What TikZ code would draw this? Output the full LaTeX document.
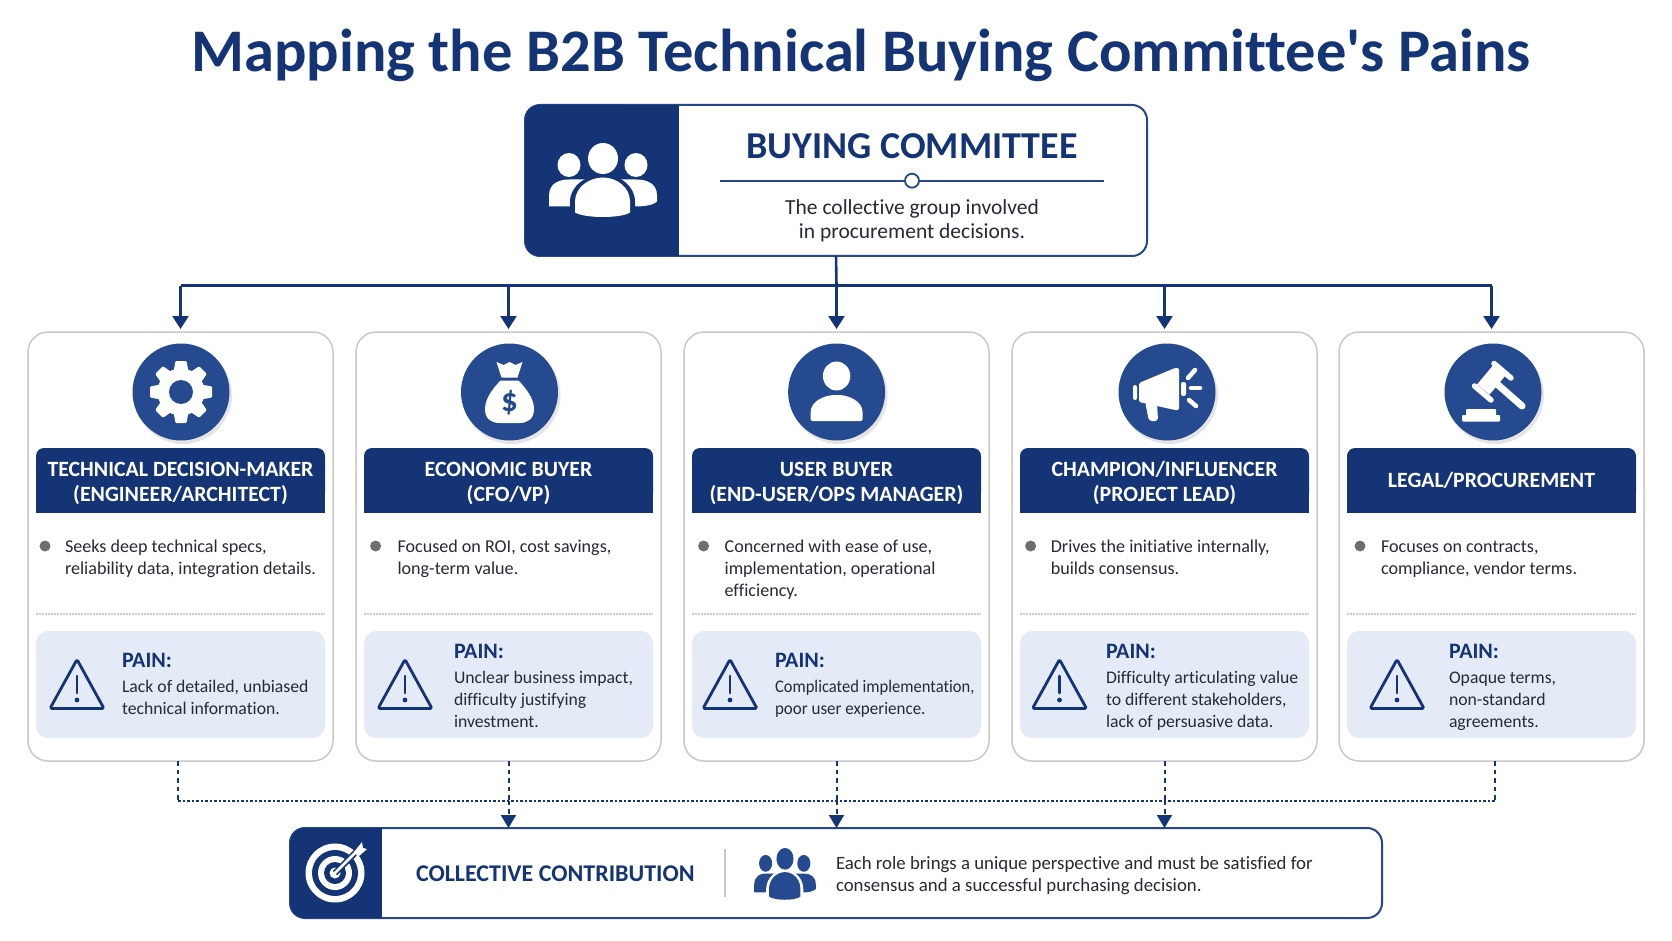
\documentclass[tikz,border=0pt]{standalone}
\usepackage{fontspec}
\setmainfont{Carlito}[Ligatures={TeX,NoCommon}]
\newfontfamily\titlefont{Carlito}[Ligatures=NoCommon]
\usetikzlibrary{arrows.meta}
\definecolor{navy}{HTML}{143475}
\definecolor{roundel}{HTML}{254A8F}
\definecolor{edgeblue}{HTML}{26478A}
\definecolor{inktext}{HTML}{262A33}
\definecolor{painfill}{HTML}{E4EBF7}
\definecolor{cardedge}{HTML}{C9C9C9}
\definecolor{dotgrey}{HTML}{6E6E70}
\tikzset{
  x=1pt,y=-1pt,
  every node/.style={inner sep=0pt,outer sep=0pt},
  cardbox/.style={draw=cardedge,fill=white,line width=1.5pt,rounded corners=20pt,minimum width=305pt,minimum height=429pt},
  wideframe/.style={draw=edgeblue,fill=white,line width=2pt,rounded corners=15pt},
  headtext/.style={text=white,font=\bfseries\fontsize{21.8}{25}\selectfont,align=center},
  bodytext/.style={text=inktext,font=\fontsize{18.1}{22}\selectfont,align=left,anchor=north west},
  paintext/.style={text=inktext,font=\fontsize{17.7}{22}\selectfont,align=left,anchor=north west},
  paintitle/.style={text=navy,font=\bfseries\fontsize{22}{25}\selectfont,anchor=west},
  busline/.style={draw=navy,line width=3pt},
  feedline/.style={draw=navy,line width=2.6pt,-{Triangle[width=16pt,length=13pt]},shorten >=3pt},
  dropline/.style={draw=navy,line width=2pt,dash pattern=on 4.5pt off 4pt},
  dropfeed/.style={dropline,-{Triangle[width=15pt,length=13pt,sep=0pt]}},
  dotline/.style={draw=navy,line width=2pt,dash pattern=on 2.5pt off 2pt},
}
\newcommand{\rl}{\rule{0pt}{15pt}}
% group of three people: local origin at the centre of the icon
\newcommand{\peopleglyph}[2]{%
  \fill[#1] (-34,-14.5) circle[x radius=11.5pt,y radius=12pt];
  \fill[#1] (33,-14.5) circle[x radius=11.5pt,y radius=12pt];
  \fill[#1] (-54,27) -- (-54,16) .. controls (-54,4) and (-44,0) .. (-34,0) .. controls (-24,0) and (24,0) .. (33,0) .. controls (44,0) and (54,4) .. (54,16) -- (54,22) .. controls (50,26) and (40,27) .. (30,27) -- cycle;
  \fill[#2] (-33,39) -- (-33,22) .. controls (-33,6) and (-16,-5) .. (0,-5) .. controls (16,-5) and (32,6) .. (32,22) -- (32,39) -- cycle;
  \fill[#1] (-28,33) -- (-28,22) .. controls (-28,8) and (-14,-2) .. (0,-2) .. controls (14,-2) and (27,8) .. (27,22) -- (27,33) .. controls (18,39) and (-18,39) .. (-28,33) -- cycle;
  \fill[#1] (0,-21) circle[x radius=15pt,y radius=15.5pt];
}
\newcommand{\rolehead}[5]{%
  \node[cardbox] (card#1) at (#2,546.5) {};
  \fill[navy,rounded corners=8pt] (#2-144.5,448) rectangle (#2+144.5,500);
  \fill[navy] (#2-144.5,470) rectangle (#2+144.5,513);
  \node[headtext] (head#1) at (#2,#5) {#4};
  \fill[black,opacity=.10] (#3+2,392+3) circle[radius=49pt];
  \fill[roundel] (#3,392) circle[radius=48.5pt];
}
\newcommand{\rolebody}[9]{%
  \fill[dotgrey] (#3,546) circle[radius=5.5pt];
  \node[bodytext] (note#1) at (#4,537.5) {\rl #5};
  \draw[cardedge,line width=1.3pt,dash pattern=on 1.6pt off 1.4pt] (#2-144.5,614) -- (#2+144.5,614);
  \fill[painfill,rounded corners=12pt] (#2-144.5,631) rectangle (#2+144.5,738);
  \draw[navy,line width=2.8pt,line join=round,rounded corners=1.5pt] (#6,659.5) -- (#6+27,708.5) -- (#6-27,708.5) -- cycle;
  \draw[navy,line width=2.8pt,line cap=round] (#6,676) -- (#6,693);
  \fill[navy] (#6,700) circle[radius=2.4pt];
  \node[paintitle] (paintag#1) at (#7,#8) {PAIN:};
  \node[paintext] (pain#1) at (#7,#8+17.5) {\rl #9};
}
\begin{document}
\begin{tikzpicture}
\useasboundingbox (0,0) rectangle (1672,941);
\fill[white] (0,0) rectangle (1672,941);

\node[text=navy,font=\titlefont\bfseries\fontsize{60.5}{66}\selectfont] (maintitle) at (861,55) {Mapping the B2B Technical Buying Committee's Pains};

% top box
\node[wideframe,minimum width=622pt,minimum height=151pt] (top) at (836,180.5) {};
\fill[navy,rounded corners=15pt] (525,105) rectangle (640,256);
\fill[navy] (610,105) rectangle (679,256);
\begin{scope}[shift={(603,179.5)}]\peopleglyph{white}{navy}\end{scope}
\node[text=navy,font=\bfseries\fontsize{38}{42}\selectfont] (toptitle) at (912,146.5) {BUYING COMMITTEE};
\draw[edgeblue,line width=1.8pt] (720,180.7) -- (1104,180.7);
\draw[edgeblue,line width=1.8pt,fill=white] (912,180.7) circle[radius=7pt];
\node[text=inktext,font=\fontsize{21.5}{24}\selectfont,align=center] (topnote) at (912,221) {The collective group involved\\in procurement decisions.};

% cards
\rolehead{1}{180.5}{181}{TECHNICAL DECISION-MAKER\\(ENGINEER/ARCHITECT)}{483}
\rolehead{2}{508.5}{509.5}{ECONOMIC BUYER\\(CFO/VP)}{483}
\rolehead{3}{836.5}{836.6}{USER BUYER\\(END-USER/OPS MANAGER)}{483}
\rolehead{4}{1164.5}{1167}{CHAMPION/INFLUENCER\\(PROJECT LEAD)}{483}
\rolehead{5}{1491.5}{1493}{LEGAL/PROCUREMENT}{480.5}

\rolebody{1}{180.5}{45}{65}{Seeks deep technical specs,\\reliability data, integration details.}{77}{122}{660}{Lack of detailed, unbiased\\technical information.}
\rolebody{2}{508.5}{375.6}{397.5}{Focused on ROI, cost savings,\\long-term value.}{405}{454}{651}{Unclear business impact,\\difficulty justifying\\investment.}
\rolebody{3}{836.5}{703.6}{724.6}{Concerned with ease of use,\\implementation, operational\\efficiency.}{730}{775}{660}{\scalebox{.935}[1]{Complicated implementation,}\\\scalebox{.96}[1]{poor user experience.}}
\rolebody{4}{1164.5}{1030.6}{1050.8}{Drives the initiative internally,\\builds consensus.}{1059.5}{1106}{651}{Difficulty articulating value\\to different stakeholders,\\lack of persuasive data.}
\rolebody{5}{1491.5}{1360}{1381}{Focuses on contracts,\\compliance, vendor terms.}{1397}{1449}{651}{Opaque terms,\\non-standard\\agreements.}

% gear
\begin{scope}[shift={(181,392)}]
  \fill[white] (0,0) circle[radius=23.5pt];
  \foreach \a in {0,45,...,315}{\fill[white,rotate=\a,rounded corners=1pt] (-7.5,-20) -- (-5.5,-31) -- (5.5,-31) -- (7.5,-20) -- cycle;}
  \fill[roundel] (0,0) circle[radius=12pt];
\end{scope}
% money bag
\begin{scope}[shift={(509.5,392)}]
  \fill[white,line join=round] (-13,-30) -- (-6,-27) -- (0,-30) -- (6,-27) -- (13,-30) -- (8,-14.5) -- (-8,-14.5) -- cycle;
  \fill[white] (-9,-11.5) .. controls (-16,-4) and (-24.5,6) .. (-24.5,17) .. controls (-24.5,27) and (-18,31) .. (-10,31) -- (10,31) .. controls (18,31) and (24.5,27) .. (24.5,17) .. controls (24.5,6) and (16,-4) .. (9,-11.5) -- cycle;
  \node[text=roundel,font=\bfseries\fontsize{33}{33}\selectfont] (dollar) at (0,11) {\$};
\end{scope}
% person
\begin{scope}[shift={(836.6,392)}]
  \fill[white] (0,-16) circle[x radius=13.7pt,y radius=14.5pt];
  \fill[white,rounded corners=1.5pt] (-26,29) -- (-26,22) .. controls (-26,9) and (-12,3) .. (0,3) .. controls (12,3) and (26,9) .. (26,22) -- (26,29) -- cycle;
\end{scope}
% megaphone
\begin{scope}[shift={(1167,392)}]
  \fill[white,line join=round,rounded corners=1.5pt] (-28,-9) -- (8,-24) -- (12,-24) -- (12,18) -- (8,18) -- (-28,10) -- cycle;
  \fill[white,rounded corners=2pt] (-34,-7) rectangle (-30,8);
  \fill[white,rounded corners=3pt] (-22,10) -- (-10,10) -- (-9,29) -- (-18,29) -- cycle;
  \fill[white,rounded corners=2pt] (14,-10) rectangle (19,4);
  \draw[white,line width=4.5pt,line cap=round] (21,-14) -- (28,-22);
  \draw[white,line width=4.5pt,line cap=round] (24,-4) -- (33,-4);
  \draw[white,line width=4.5pt,line cap=round] (22,8) -- (29,14);
\end{scope}
% gavel
\begin{scope}[shift={(1493,392)}]
  \fill[white,line join=round] (12.4,-16.4) -- (0,-26.6) -- (-15.9,-7.6) -- (-3.5,2.6) -- cycle;
  \draw[white,line width=5.5pt,line cap=round] (18,-14) -- (1,-28.5);
  \draw[white,line width=5.5pt,line cap=round] (-2,8) -- (-18.5,-6);
  \draw[white,line width=7pt,line cap=round] (4,-8) -- (29,14);
  \fill[white,rounded corners=1pt] (-27,17) rectangle (3,25);
  \fill[white,rounded corners=1pt] (-31,23) rectangle (7,29.5);
\end{scope}

% bottom box
\node[wideframe,minimum width=1092pt,minimum height=90pt] (bottom) at (836,873) {};
\fill[navy,rounded corners=15pt] (290,828) rectangle (350,918);
\fill[navy] (325,828) rectangle (382.4,918);
\begin{scope}[shift={(335,873)}]
  \fill[white] (0,0) circle[radius=29.5pt];
  \fill[navy] (0,0) circle[radius=23pt];
  \fill[white] (0,0) circle[radius=17pt];
  \fill[navy] (0,0) circle[radius=11pt];
  \fill[white] (0,0) circle[radius=5.5pt];
  \draw[navy,line width=6pt] (0,0) -- (22,-22);
  \draw[white,line width=2.8pt,line cap=round] (0,0) -- (24,-24);
  \fill[white] (19,-21) -- (27,-31) -- (28,-25) -- (32,-24) -- (23,-16) -- cycle;
\end{scope}
\node[text=navy,font=\bfseries\fontsize{24}{26}\selectfont,anchor=west] (bottomtitle) at (416,874) {COLLECTIVE CONTRIBUTION};
\draw[cardedge,line width=1.5pt] (725,849) -- (725,897);
\begin{scope}[shift={(785,873.5)},xscale=.57,yscale=.7]\peopleglyph{roundel}{white}\end{scope}
\node[bodytext,anchor=north west,font=\fontsize{18.8}{22}\selectfont] (bottomnote) at (836,854.5) {\rl Each role brings a unique perspective and must be satisfied for\\consensus and a successful purchasing decision.};

% connectors
\coordinate (bus1) at (card1.north |- 0,285.5);
\coordinate (bus2) at (card2.north |- 0,285.5);
\coordinate (bus3) at (card3.north |- 0,285.5);
\coordinate (bus4) at (card4.north |- 0,285.5);
\coordinate (bus5) at (card5.north |- 0,285.5);
\draw[busline] (bus1) -- (bus5);
\draw[navy,line width=2.6pt] (top.south) -- (bus3);
\foreach \k in {1,...,5}{\draw[feedline] (bus\k) -- (card\k.north);}

\coordinate (low1) at (178,761);
\coordinate (low5) at (1495,761);
\coordinate (rail1) at (178,800.7);
\coordinate (rail2) at (card2.south |- 0,800.7);
\coordinate (rail3) at (card3.south |- 0,800.7);
\coordinate (rail4) at (card4.south |- 0,800.7);
\coordinate (rail5) at (1495,800.7);
\draw[dotline] (rail1) -- (rail5);
\draw[dropline] (low1) -- (rail1);
\draw[dropline] (low5) -- (rail5);
\foreach \k in {2,3,4}{\draw[dropline] (card\k.south) -- (rail\k);\draw[dropfeed] (rail\k) -- (rail\k |- bottom.north);}
\end{tikzpicture}
\end{document}
